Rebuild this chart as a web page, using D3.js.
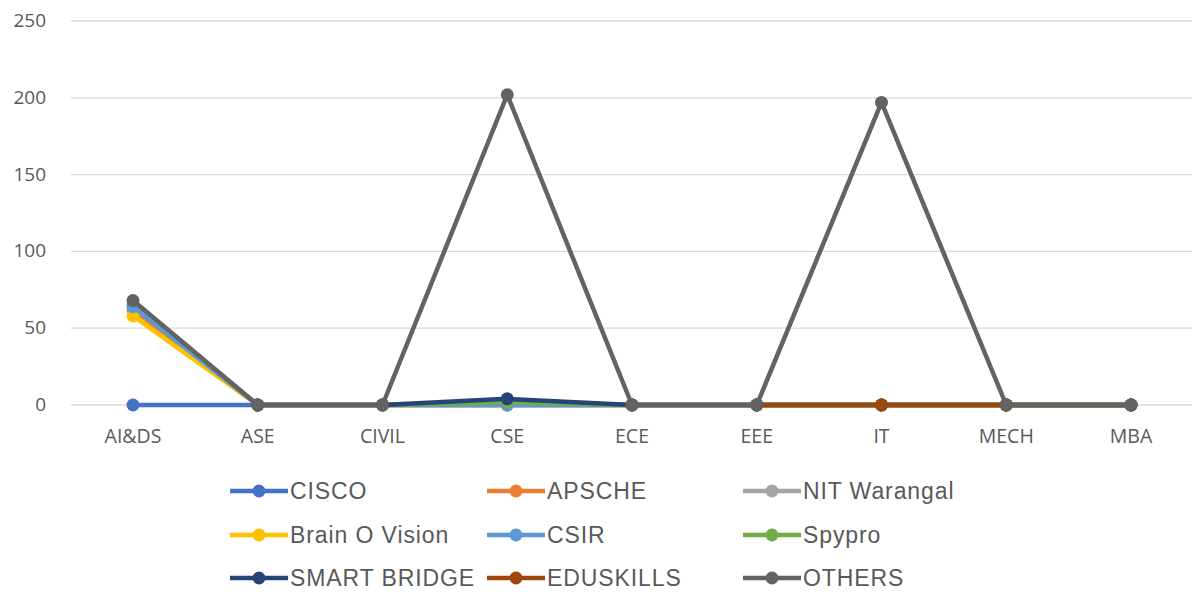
<!DOCTYPE html>
<html><head><meta charset="utf-8">
<script src="https://cdn.jsdelivr.net/npm/d3@7"></script>
<style>body{margin:0;background:#fff}svg{display:block}</style>
</head><body>
<svg id="c" width="1192" height="594"></svg>
<script>
const categories = ["AI&DS","ASE","CIVIL","CSE","ECE","EEE","IT","MECH","MBA"];
const seriesNames = ["CISCO","APSCHE","NIT Warangal","Brain O Vision","CSIR","Spypro","SMART BRIDGE","EDUSKILLS","OTHERS"];
const cisco       = [0,0,0,0,0,0,0,0,0];
const apsche      = [62,0,0,0,0,0,0,0,0];
const nitWarangal = [65,0,0,0,0,0,0,0,0];
const brainOVision= [58,0,0,0,0,0,0,0,0];
const csir        = [64,0,0,0,0,0,0,0,0];
const spypro      = [null,0,0,2,0,0,0,0,0];
const smartBridge = [null,0,0,4,0,0,0,0,0];
const eduskills   = [null,null,null,null,null,0,0,0,0];
const others      = [68,0,0,202,0,0,197,0,0];
const yTicks = [0,50,100,150,200,250];
const colors = ["#4472C4","#ED7D31","#A5A5A5","#FFC000","#5B9BD5","#70AD47","#264478","#9E480E","#636363"];
const allValues = [cisco,apsche,nitWarangal,brainOVision,csir,spypro,smartBridge,eduskills,others];

const svg = d3.select("#c");
const x = d3.scalePoint().domain(categories).range([133,1131]);
const y = d3.scaleLinear().domain([0,250]).range([405,21]);

svg.append("g").selectAll("line").data(yTicks).join("line")
  .attr("x1",71).attr("x2",1192)
  .attr("y1",d=>y(d)).attr("y2",d=>y(d))
  .attr("stroke","#d9d9d9").attr("stroke-width",1.3);

svg.append("g").selectAll("text").data(yTicks).join("text")
  .attr("x",46).attr("y",d=>y(d)+6)
  .attr("text-anchor","end")
  .attr("font-family","Open Sans, Liberation Sans, sans-serif")
  .attr("font-size",19).attr("fill","#595959")
  .text(d=>d);

svg.append("g").selectAll("text").data(categories).join("text")
  .attr("x",d=>x(d)).attr("y",443)
  .attr("text-anchor","middle")
  .attr("font-family","Open Sans, Liberation Sans, sans-serif")
  .attr("font-size",19.5).attr("fill","#595959")
  .text(d=>d);

const line = d3.line().defined(d=>d.v!=null).x(d=>x(d.c)).y(d=>y(d.v));

seriesNames.forEach((name,i)=>{
  const pts = categories.map((c,j)=>({c, v: allValues[i][j]}));
  const g = svg.append("g");
  g.append("path").datum(pts).attr("d",line)
    .attr("fill","none").attr("stroke",colors[i]).attr("stroke-width",4.5)
    .attr("stroke-linejoin","round");
  g.selectAll("circle").data(pts.filter(d=>d.v!=null)).join("circle")
    .attr("cx",d=>x(d.c)).attr("cy",d=>y(d.v)).attr("r",6.5)
    .attr("fill",colors[i]);
});

const legX = [230,487,743];
const legY = [491,535,578];
seriesNames.forEach((name,i)=>{
  const lx = legX[i%3], ly = legY[Math.floor(i/3)];
  const g = svg.append("g");
  g.append("line").attr("x1",lx).attr("x2",lx+58).attr("y1",ly).attr("y2",ly)
    .attr("stroke",colors[i]).attr("stroke-width",4.5);
  g.append("circle").attr("cx",lx+29).attr("cy",ly).attr("r",6.5).attr("fill",colors[i]);
  g.append("text").attr("x",lx+60).attr("y",ly+8)
    .attr("font-family","Liberation Sans, Arial, sans-serif")
    .attr("font-size",23).attr("letter-spacing",0.9).attr("fill","#595959").text(name);
});
</script>
</body></html>
